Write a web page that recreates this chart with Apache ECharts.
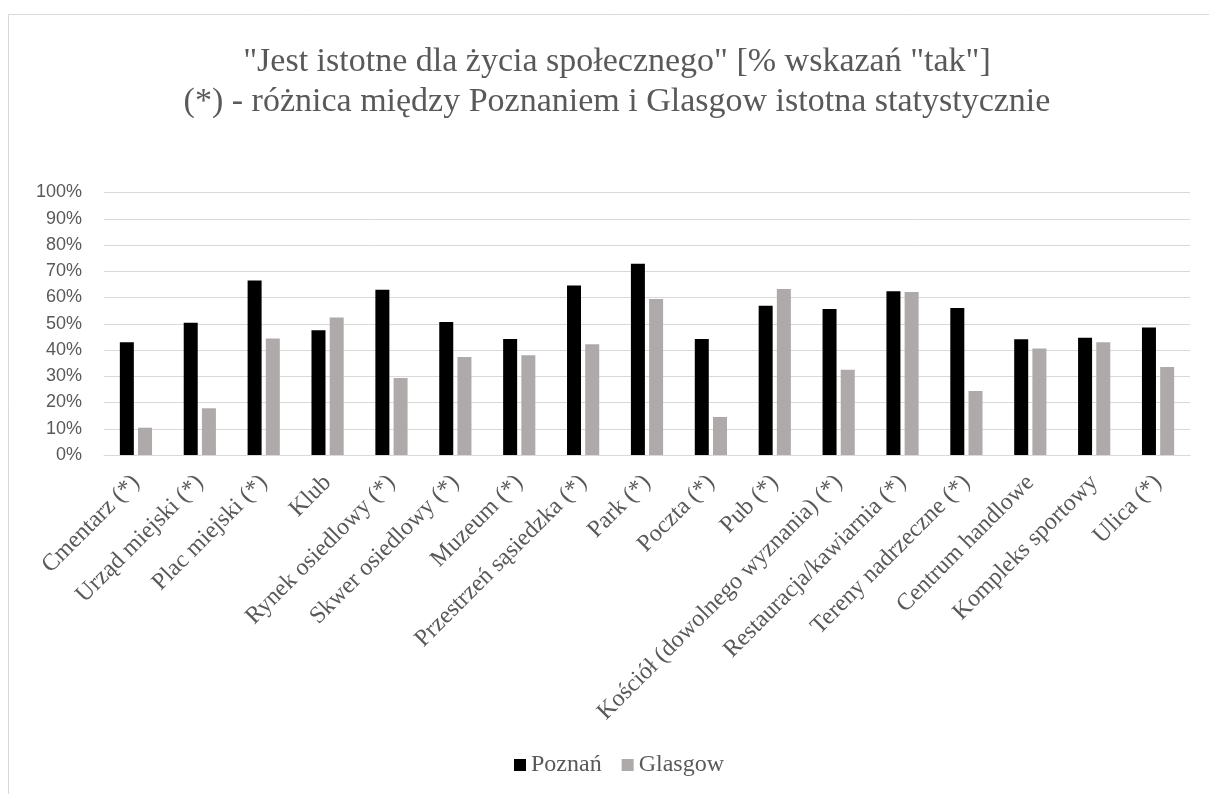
<!DOCTYPE html>
<html><head><meta charset="utf-8">
<script src="https://cdn.jsdelivr.net/npm/echarts@6/dist/echarts.min.js"></script>
<style>html,body{margin:0;padding:0;background:#fff}#c{width:1209px;height:794px}</style>
</head><body><div id="c"></div>
<script>
const categories = ["Cmentarz (*)","Urząd miejski (*)","Plac miejski (*)","Klub","Rynek osiedlowy (*)","Skwer osiedlowy (*)","Muzeum (*)","Przestrzeń sąsiedzka (*)","Park (*)","Poczta (*)","Pub (*)","Kościół (dowolnego wyznania) (*)","Restauracja/kawiarnia (*)","Tereny nadrzeczne (*)","Centrum handlowe","Kompleks sportowy","Ulica (*)"];
const poznan = [43.0,50.4,66.5,47.5,63.0,50.7,44.2,64.6,72.9,44.2,56.9,55.6,62.4,56.0,44.1,44.7,48.6];
const glasgow = [10.4,17.8,44.4,52.4,29.3,37.3,38.0,42.2,59.4,14.5,63.2,32.5,62.1,24.4,40.6,43.0,33.5];
const titleText = '"Jest istotne dla życia społecznego" [% wskazań "tak"]\n(*) - różnica między Poznaniem i Glasgow istotna statystycznie';

const chart = echarts.init(document.getElementById('c'), null, {renderer:'canvas'});
chart.setOption({
  animation:false,
  backgroundColor:'#fff',
  graphic:[{type:'rect',shape:{x:8.5,y:14.5,width:1400,height:900},style:{fill:'none',stroke:'#d9d9d9',lineWidth:1}}],
  title:{text:titleText,left:612,textAlign:'center',top:37,
    textStyle:{fontFamily:'Liberation Serif',fontSize:34,fontWeight:'normal',color:'#595959',lineHeight:40}},
  legend:{top:748,left:509,itemWidth:12,itemHeight:12,itemGap:20,icon:'rect',
    textStyle:{fontFamily:'Liberation Serif',fontSize:24,color:'#595959'},
    data:['Poznań','Glasgow']},
  grid:{left:104,right:19,top:192.5,bottom:339,containLabel:false},
  xAxis:{type:'category',data:categories,
    axisLine:{lineStyle:{color:'#d9d9d9',width:1}},axisTick:{show:false},
    axisLabel:{rotate:45,interval:0,margin:24,fontFamily:'Liberation Serif',fontSize:24,color:'#595959'}},
  yAxis:{type:'value',min:0,max:100,interval:10,
    axisLabel:{formatter:'{value}%',fontFamily:'Liberation Sans',fontSize:18,color:'#595959',margin:22},
    splitLine:{lineStyle:{color:'#d9d9d9',width:1}},axisLine:{show:false},axisTick:{show:false}},
  series:[
    {name:'Poznań',type:'bar',data:poznan,barWidth:14,barGap:'30%',itemStyle:{color:'#000000'}},
    {name:'Glasgow',type:'bar',data:glasgow,barWidth:14,itemStyle:{color:'#aeaaaa'}}
  ]
});
</script></body></html>
